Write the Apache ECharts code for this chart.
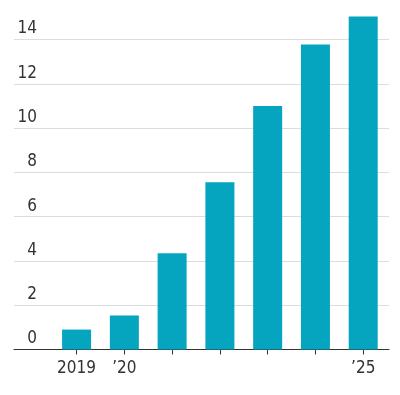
<!DOCTYPE html>
<html>
<head>
<meta charset="utf-8">
<script src="https://cdn.jsdelivr.net/npm/echarts@6/dist/echarts.min.js"></script>
<style>html,body{margin:0;padding:0;background:#fff;}#c{width:400px;height:395px;}</style>
</head>
<body>
<div id="c"></div>
<script>
const years = [2019, 2020, 2021, 2022, 2023, 2024, 2025];
const values = [0.9, 1.54, 4.35, 7.56, 11.0, 13.78, 15.04];
const xTickLabels = {2019: '2019', 2020: '’20', 2025: '’25'};
const yTicks = [0, 2, 4, 6, 8, 10, 12, 14];

const FONT = '"Liberation Sans Narrow", "DejaVu Sans Condensed", sans-serif';
const chart = echarts.init(document.getElementById('c'), null, {renderer: 'canvas'});
chart.setOption({
  animation: false,
  grid: {left: 14, right: 11, top: 13, bottom: 45.5, containLabel: false},
  xAxis: {
    type: 'value',
    min: 2017.69,
    max: 2025.54,
    axisLine: {show: true, onZero: false, lineStyle: {color: '#333', width: 1}},
    axisTick: {show: true, customValues: years, length: 5, lineStyle: {color: '#333', width: 1}},
    axisLabel: {
      customValues: [2019, 2020, 2025],
      formatter: v => xTickLabels[v] || '',
      color: '#333', fontSize: 17, fontFamily: FONT, margin: 11
    },
    splitLine: {show: false}
  },
  yAxis: {
    type: 'value',
    min: 0,
    max: 15.2,
    interval: 2,
    axisLine: {show: false},
    axisTick: {show: false},
    axisLabel: {
      customValues: yTicks,
      align: 'right',
      verticalAlign: 'bottom',
      margin: -23,
      padding: [0, 0, 2, 0],
      color: '#333', fontSize: 17, fontFamily: FONT
    },
    splitLine: {show: true, showMaxLine: false, lineStyle: {color: '#dcdcdc', width: 1}}
  },
  series: [{
    type: 'bar',
    data: years.map((y, i) => [y, values[i]]),
    barWidth: 29,
    itemStyle: {color: '#05a4bf'}
  }]
});
</script>
</body>
</html>
